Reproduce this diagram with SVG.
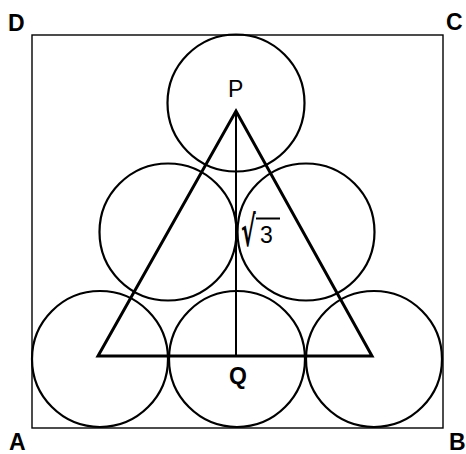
<svg xmlns="http://www.w3.org/2000/svg" width="466" height="454" viewBox="0 0 466 454">
<style>
.bg{fill:#ffffff}
.frame{fill:none;stroke:#000;stroke-width:1.4}
.circ{fill:none;stroke:#000;stroke-width:2.2}
.tri{fill:none;stroke:#000;stroke-width:3;stroke-linejoin:miter}
.thin{stroke:#000;stroke-width:2}
.lbl{font-family:"Liberation Sans",Arial,sans-serif;font-size:23px;fill:#000}
.b{font-weight:bold}
</style>
<rect class="bg" x="0" y="0" width="466" height="454"/>
<g id="square">
<rect class="frame" x="32" y="35" width="411" height="393"/>
</g>
<g id="circles">
<circle id="c-top" class="circ" cx="236" cy="103" r="68.5"/>
<circle id="c-midL" class="circ" cx="168" cy="232" r="68.5"/>
<circle id="c-midR" class="circ" cx="306" cy="232" r="68.5"/>
<circle id="c-botL" class="circ" cx="100" cy="359" r="68"/>
<circle id="c-botM" class="circ" cx="237" cy="359" r="68"/>
<circle id="c-botR" class="circ" cx="374" cy="359" r="68"/>
</g>
<g id="connectors">
<polygon id="triangle" class="tri" points="98,356 372,356 236,111"/>
<line id="PQ" class="thin" x1="236" y1="110" x2="236" y2="356"/>
<line id="vinculum" x1="256" y1="218.5" x2="280" y2="218.5" stroke="#000" stroke-width="2"/>
</g>
<g id="labels">
<text class="lbl b" x="8" y="31">D</text>
<text class="lbl b" x="446" y="30">C</text>
<text class="lbl b" x="9" y="450">A</text>
<text class="lbl b" x="449" y="450">B</text>
<text class="lbl" x="228" y="97">P</text>
<text class="lbl b" x="229" y="384">Q</text>
<text font-family="DejaVu Sans,sans-serif" font-weight="bold" font-size="22" transform="translate(241,246) scale(1,1.9)" x="0" y="0">√</text>
<text class="lbl" font-size="25" x="260" y="243">3</text>
</g>
</svg>
